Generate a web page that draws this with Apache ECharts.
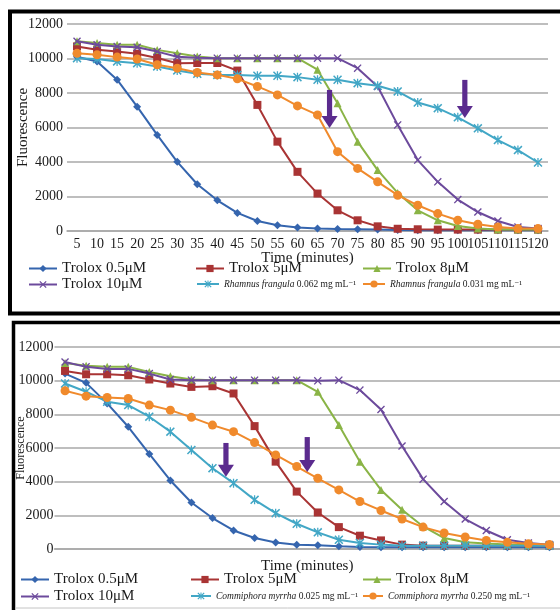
<!DOCTYPE html>
<html><head><meta charset="utf-8">
<script src="https://cdn.jsdelivr.net/npm/echarts@6/dist/echarts.min.js"></script>
<style>html,body{margin:0;padding:0;background:#fff}#c{width:560px;height:610px}</style>
</head><body><div id="c"></div>
<script>
// ---------- DATA ----------
const minutes = ['5','10','15','20','25','30','35','40','45','50','55','60','65','70','75','80','85','90','95','100','105','110','115','120'];
const yTicks = [0, 2000, 4000, 6000, 8000, 10000, 12000];

const troloxNames = ['Trolox 0.5\u03BCM', 'Trolox 5\u03BCM', 'Trolox 8\u03BCM', 'Trolox 10\u03BCM'];
const speciesTop = 'Rhamnus frangula';
const dosesTop = ['0.062', '0.031'];
const speciesBottom = 'Commiphora myrrha';
const dosesBottom = ['0.025', '0.250'];
const unitText = ' mg mL\u207B\u00B9';

// top panel
const topT05 = [10100, 9830, 8770, 7210, 5570, 4010, 2710, 1780, 1050, 580, 330, 200, 150, 120, 100, 80, 60, 50, 50, 50, 50, 50, 50, 50];
const topT5  = [10700, 10510, 10410, 10280, 10030, 9730, 9740, 9740, 9300, 7310, 5180, 3430, 2170, 1200, 620, 270, 130, 100, 80, 80, 80, 80, 80, 80];
const topT8  = [11000, 10900, 10800, 10800, 10500, 10300, 10120, 10020, 10020, 10020, 10020, 10020, 9350, 7400, 5180, 3530, 2210, 1200, 620, 290, 140, 80, 80, 80];
const topT10 = [11000, 10800, 10700, 10650, 10400, 10100, 10050, 10020, 10020, 10020, 10020, 10020, 10020, 10020, 9440, 8380, 6150, 4110, 2850, 1820, 1100, 580, 230, 140];
const topRf062 = [10020, 9970, 9830, 9730, 9540, 9310, 9110, 9050, 9050, 9000, 9000, 8920, 8770, 8770, 8570, 8420, 8090, 7450, 7120, 6590, 5950, 5270, 4690, 3970];
const topRf031 = [10300, 10220, 10080, 9970, 9640, 9440, 9190, 9050, 8820, 8380, 7890, 7250, 6730, 4600, 3630, 2850, 2075, 1490, 1010, 620, 390, 230, 140, 140];
// arrows: [category position, start value, tip value]
const topArrows = [[12.6, 8180, 5970], [19.35, 8760, 6550]];

// bottom panel
const botT05 = [10420, 9870, 8650, 7260, 5650, 4070, 2760, 1840, 1100, 650, 390, 255, 217, 160, 120, 100, 100, 100, 100, 100, 100, 100, 100, 100];
const botT5  = [10580, 10380, 10380, 10320, 10070, 9830, 9630, 9670, 9240, 7300, 5190, 3410, 2170, 1300, 790, 510, 260, 200, 200, 200, 200, 200, 200, 200];
const botT8  = [11050, 10880, 10820, 10820, 10520, 10260, 10070, 10030, 10030, 10030, 10030, 10030, 9340, 7360, 5190, 3510, 2330, 1340, 650, 400, 320, 260, 220, 220];
const botT10 = [11110, 10820, 10700, 10700, 10420, 10070, 10030, 10030, 10030, 10030, 10030, 10030, 9990, 10030, 9440, 8290, 6120, 4150, 2820, 1780, 1100, 550, 355, 260];
const botCm025 = [9830, 9340, 8750, 8550, 7860, 6970, 5880, 4800, 3910, 2920, 2130, 1500, 990, 550, 355, 260, 200, 200, 200, 200, 200, 200, 200, 200];
const botCm250 = [9400, 9080, 9000, 8940, 8550, 8250, 7820, 7360, 6970, 6320, 5590, 4900, 4200, 3510, 2820, 2290, 1780, 1300, 950, 710, 510, 395, 315, 260];
const botArrows = [[7.64, 6300, 4290], [11.5, 6650, 4580]];

// ---------- STYLE ----------
const FONT = '"Liberation Serif", "DejaVu Serif", serif';
const COLORS = ['#3565ae', '#a93434', '#8ab446', '#6c4a9c', '#42a7c6', '#f08a2c'];
const XPATH = 'path://M0,1.2L1.2,0L5,3.8L8.8,0L10,1.2L6.2,5L10,8.8L8.8,10L5,6.2L1.2,10L0,8.8L3.8,5Z';
const STARPATH = 'path://M0,1.2L1.2,0L5,3.8L8.8,0L10,1.2L6.2,5L10,8.8L8.8,10L5,6.2L1.2,10L0,8.8L3.8,5ZM4.3,0H5.7V10H4.3Z';
const SYMBOLS = ['diamond', 'rect', 'triangle', XPATH, STARPATH, 'circle'];
const SIZES = [8, 8, 8, 8, 9, 9];
const ARROW = '#5b2b8e';

const topNames = troloxNames.concat(dosesTop.map(d => speciesTop + ' ' + d + unitText));
const botNames = troloxNames.concat(dosesBottom.map(d => speciesBottom + ' ' + d + unitText));
const topData = [topT05, topT5, topT8, topT10, topRf062, topRf031];
const botData = [botT05, botT5, botT8, botT10, botCm025, botCm250];

function lineSeries(names, data, gi) {
  return names.map((n, k) => ({
    type: 'line', name: n, xAxisIndex: gi * 2, yAxisIndex: gi,
    data: data[k], symbol: SYMBOLS[k], symbolSize: SIZES[k], showAllSymbol: true,
    color: COLORS[k], lineStyle: { width: 2, color: COLORS[k] },
    itemStyle: { color: COLORS[k] }, z: 3 + k, animation: false
  }));
}
function arrowSeries(arrows, gi) {
  return {
    type: 'custom', xAxisIndex: gi * 2 + 1, yAxisIndex: gi, z: 20, silent: true,
    data: arrows,
    renderItem: function (params, api) {
      const a = api.coord([api.value(0), api.value(1)]);
      const b = api.coord([api.value(0), api.value(2)]);
      const x = a[0], hw = 8, hh = 12, sw = 2.6;
      return { type: 'group', children: [
        { type: 'rect', shape: { x: x - sw, y: a[1], width: sw * 2, height: b[1] - hh - a[1] + 1 }, style: { fill: ARROW } },
        { type: 'polygon', shape: { points: [[x - hw, b[1] - hh], [x + hw, b[1] - hh], [x, b[1]]] }, style: { fill: ARROW } }
      ]};
    }
  };
}

function yAxis(gi, nameSize, gap, labelMargin) {
  return {
    type: 'value', gridIndex: gi, min: yTicks[0], max: yTicks[yTicks.length - 1], interval: yTicks[1] - yTicks[0],
    name: 'Fluorescence', nameLocation: 'middle', nameGap: gap, nameRotate: 90, nameMoveOverlap: false,
    nameTextStyle: { fontFamily: FONT, fontSize: nameSize, color: '#1a1a1a' },
    axisLine: { show: false },
    axisTick: { show: false },
    axisLabel: { fontFamily: FONT, fontSize: 14, color: '#1a1a1a', margin: labelMargin, formatter: v => String(v) },
    splitLine: { lineStyle: { color: '#a8a8a8', width: 1.5 } }
  };
}
function catAxis(gi, showLabels, gap) {
  return {
    type: 'category', gridIndex: gi, data: minutes, boundaryGap: true,
    name: 'Time (minutes)', nameLocation: 'middle', nameGap: gap, nameMoveOverlap: false,
    nameTextStyle: { fontFamily: FONT, fontSize: 15, color: '#1a1a1a' },
    axisLine: { show: true, lineStyle: { color: '#a8a8a8', width: 1.5 } },
    axisTick: { show: false },
    axisLabel: { show: showLabels, interval: 0, fontFamily: FONT, fontSize: 14, color: '#1a1a1a', margin: 6 }
  };
}
function valAxis(gi) {
  return { type: 'value', gridIndex: gi, min: -0.5, max: minutes.length - 0.5, show: false };
}

function legendFor(name, left, top, iconW) {
  return {
    data: [name], left: left, top: top, padding: 0, itemWidth: iconW, itemHeight: 9,
    selectedMode: false,
    textStyle: {
      fontFamily: FONT, fontSize: 15, color: '#1a1a1a',
      rich: {
        it: { fontFamily: FONT, fontStyle: 'italic', fontSize: 9.5, color: '#1a1a1a' },
        n: { fontFamily: FONT, fontSize: 9.5, color: '#1a1a1a' }
      }
    },
    formatter: function (n) {
      for (const sp of [speciesTop, speciesBottom]) {
        if (n.indexOf(sp) === 0) return '{it|' + sp + '}{n|' + n.slice(sp.length) + '}';
      }
      return n;
    }
  };
}

const chart = echarts.init(document.getElementById('c'), null, { renderer: 'canvas' });
chart.setOption({
  backgroundColor: '#ffffff',
  animation: false,
  grid: [
    { left: 67, right: 12, top: 24, bottom: 379 },
    { left: 54.5, right: -3.5, top: 347, bottom: 61 }
  ],
  xAxis: [catAxis(0, true, 20), valAxis(0), catAxis(1, false, 10), valAxis(1)],
  yAxis: [yAxis(0, 15, 36, 4), yAxis(1, 12, 28, 1)],
  legend: [
    legendFor(topNames[0], 28, 261, 28), legendFor(topNames[1], 195, 261, 28), legendFor(topNames[2], 362, 261, 28),
    legendFor(topNames[3], 28, 277, 28), legendFor(topNames[4], 196, 279, 22), legendFor(topNames[5], 362, 279, 22),
    legendFor(botNames[0], 20, 572, 28), legendFor(botNames[1], 190, 572, 28), legendFor(botNames[2], 362, 572, 28),
    legendFor(botNames[3], 20, 589, 28), legendFor(botNames[4], 190, 591, 20), legendFor(botNames[5], 362, 591, 20)
  ],
  graphic: [
    { type: 'rect', shape: { x: 10, y: 11.5, width: 560, height: 302 }, style: { fill: 'none', stroke: '#000', lineWidth: 4 }, z: 100 },
    { type: 'rect', shape: { x: 13.5, y: 322.5, width: 560, height: 300 }, style: { fill: 'none', stroke: '#000', lineWidth: 3.5 }, z: 100 },
    { type: 'line', shape: { x1: 15, y1: 608, x2: 560, y2: 608 }, style: { stroke: '#c4c4c4', lineWidth: 1 }, z: 100 }
  ],
  series: lineSeries(topNames, topData, 0)
    .concat(lineSeries(botNames, botData, 1))
    .concat([arrowSeries(topArrows, 0), arrowSeries(botArrows, 1)])
});
</script>
</body></html>
